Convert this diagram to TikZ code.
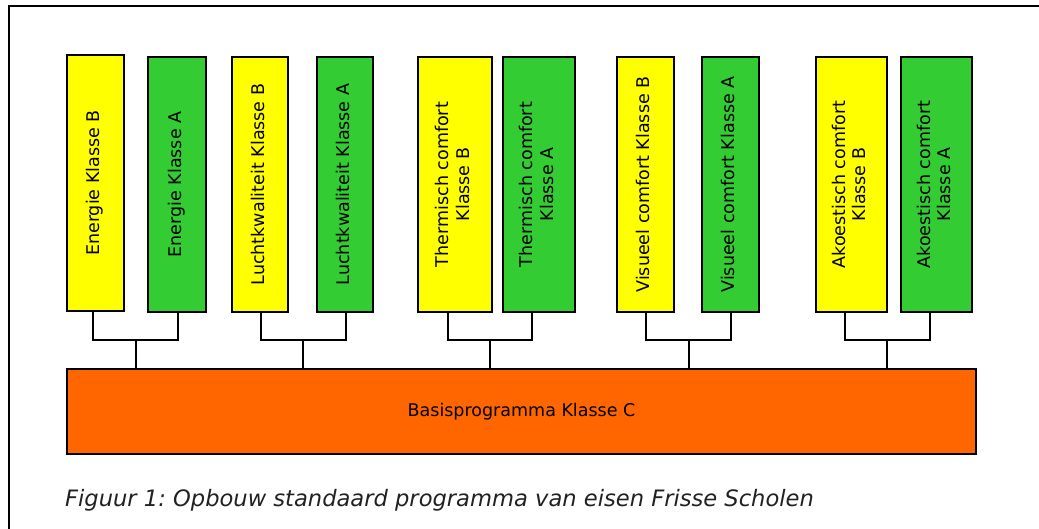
\documentclass[tikz,border=0pt]{standalone}
\usepackage{fontspec}
\setmainfont{DejaVu Sans}
\usetikzlibrary{calc}
\definecolor{byellow}{HTML}{FFFF00}
\definecolor{bgreen}{HTML}{33CC33}
\definecolor{borange}{HTML}{FF6600}
\frenchspacing
\begin{document}
\begin{tikzpicture}[x=1pt,y=1pt,
  boxB/.style={draw=black, line width=1.9pt, fill=byellow, inner sep=0pt, minimum height=255pt},
  boxA/.style={boxB, fill=bgreen},
  basebox/.style={draw=black, line width=1.9pt, fill=borange, inner sep=0pt, font=\fontsize{17.5}{20.5}\selectfont},
  conn/.style={draw=black, line width=1.6pt},
  frame/.style={draw=black, line width=1.5pt},
  every node/.append style={font=\fontsize{17.5}{20.5}\selectfont}]
\newcommand{\vtext}[1]{\rotatebox{90}{\begin{tabular}{@{}c@{}}#1\end{tabular}}}
\useasboundingbox (0,0) rectangle (1039,529);
\draw[frame] (9,0) -- (9,523) -- (1039,523);
% boxes
\node[boxB, minimum width=57pt, minimum height=256pt] (b1) at (95.5,346) {\vtext{Energie Klasse B}};
\node[boxA, minimum width=58pt] (b2) at (177,344.5) {\vtext{Energie Klasse A}};
\node[boxB, minimum width=56pt] (b3) at (260,344.5) {\vtext{Luchtkwaliteit Klasse B}};
\node[boxA, minimum width=56pt] (b4) at (345,344.5) {\vtext{Luchtkwaliteit Klasse A}};
\node[boxB, minimum width=74pt] (b5) at (455,344.5) {\vtext{Thermisch comfort\\Klasse B}};
\node[boxA, minimum width=72pt] (b6) at (539,344.5) {\vtext{Thermisch comfort\\Klasse A}};
\node[boxB, minimum width=57pt] (b7) at (645.5,344.5) {\vtext{Visueel comfort Klasse B}};
\node[boxA, minimum width=57pt] (b8) at (730.5,344.5) {\vtext{Visueel comfort Klasse A}};
\node[boxB, minimum width=71pt] (b9) at (851.5,344.5) {\vtext{Akoestisch comfort\\Klasse B}};
\node[boxA, minimum width=71pt] (b10) at (936.5,344.5) {\vtext{Akoestisch comfort\\Klasse A}};
\node[basebox, minimum width=909pt, minimum height=85pt] (base) at (521.5,117.5) {Basisprogramma Klasse C};
% connectors
\coordinate (lvl) at (0,189);
\draw[conn] ([xshift=-2.5pt]b1.south) -- ([xshift=-2.5pt]b1.south |- lvl) -| ([xshift=1pt]b2.south);
\draw[conn] ([xshift=1pt]b3.south) -- ([xshift=1pt]b3.south |- lvl) -| ([xshift=1pt]b4.south);
\draw[conn] ([xshift=-7pt]b5.south) -- ([xshift=-7pt]b5.south |- lvl) -| ([xshift=-7pt]b6.south);
\draw[conn] ([xshift=0.5pt]b7.south) -- ([xshift=0.5pt]b7.south |- lvl) -| ([xshift=0.5pt]b8.south);
\draw[conn] ([xshift=-6.5pt]b9.south) -- ([xshift=-6.5pt]b9.south |- lvl) -| ([xshift=-6.5pt]b10.south);
\coordinate (m1) at (136,189);
\coordinate (m2) at (303,189);
\coordinate (m3) at (490,189);
\coordinate (m4) at (689,189);
\coordinate (m5) at (887,189);
\foreach \m in {m1,m2,m3,m4,m5} \draw[conn] (\m) -- (\m |- base.north);
% caption
\node[anchor=base west, inner sep=0pt, text=black!87, font=\fontsize{22.6}{26}\selectfont\itshape] (cap) at (65,22) {Figuur 1: Opbouw standaard programma van eisen Frisse Scholen};
\end{tikzpicture}
\end{document}
